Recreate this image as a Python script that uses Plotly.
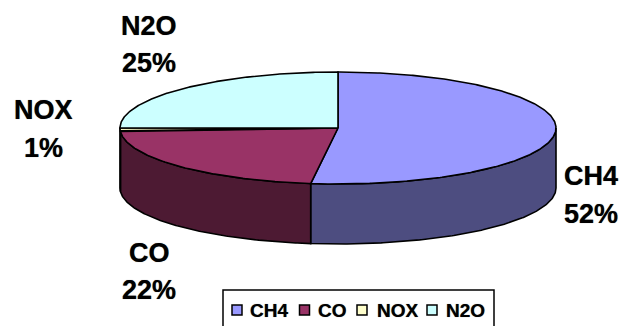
import numpy as np
import plotly.graph_objects as go

# Emission shares by gas, in percent
gases = ["CH4", "CO", "NOX", "N2O"]
shares = [52, 22, 1, 25]

top_colors = ["#9999FF", "#993366", "#FFFFCC", "#CCFFFF"]
side_colors = ["#4D4D80", "#4D1A33", "#808066", "#668080"]

# Tilted-disc geometry on a 623x326 canvas
CX, CY, RX, RY, DEPTH = 338, 128, 218, 56, 60
OUTLINE = dict(color="black", width=1.6)

# Label anchor points (centre of name, centre of percentage)
label_pos = {
    "CH4": (591, 176, 214),
    "CO": (149, 253, 290),
    "NOX": (43, 110, 148),
    "N2O": (149, 26, 63),
}
swatch_x = [237, 304.5, 362, 432]
legend_text_x = [249, 317, 376, 445]
LEGEND_Y = 310
TEXT_WEIGHT = "0 0 0.7px rgba(0,0,0,0.7)"


def rim(a0, a1):
    """Ellipse points for clockwise angles (degrees from twelve o'clock)."""
    t = np.radians(np.linspace(a0, a1, max(int(abs(a1 - a0)) * 2, 2)))
    return CX + RX * np.sin(t), CY - RY * np.cos(t)


edges = np.concatenate([[0], np.cumsum(shares)]) * 360 / sum(shares)
fig = go.Figure()

# Visible wall: only the front half of the disc (90 to 270 degrees)
for i, name in enumerate(gases):
    a0, a1 = max(edges[i], 90), min(edges[i + 1], 270)
    if a1 <= a0:
        continue
    x, y = rim(a0, a1)
    fig.add_trace(go.Scatter(
        x=np.concatenate([x, x[::-1], x[:1]]),
        y=np.concatenate([y, y[::-1] + DEPTH, y[:1]]),
        mode="lines", fill="toself", fillcolor=side_colors[i],
        line=OUTLINE, hoverinfo="skip", showlegend=False,
    ))

# Top face wedges
for i, name in enumerate(gases):
    x, y = rim(edges[i], edges[i + 1])
    fig.add_trace(go.Scatter(
        x=np.concatenate([[CX], x, [CX]]),
        y=np.concatenate([[CY], y, [CY]]),
        mode="lines", fill="toself", fillcolor=top_colors[i],
        line=OUTLINE, name=name, text=f"{name}: {shares[i]}%",
        hoverinfo="text", showlegend=False,
    ))

# Legend swatches
fig.add_trace(go.Scatter(
    x=swatch_x, y=[LEGEND_Y] * len(gases), mode="markers",
    marker=dict(symbol="square", size=10, color=top_colors,
                line=dict(color="black", width=1.5)),
    hoverinfo="skip", showlegend=False,
))

annotations = []
label_font = dict(family="Liberation Sans", size=27, color="black", weight="bold",
                  shadow=TEXT_WEIGHT)
for name, share in zip(gases, shares):
    lx, y_name, y_pct = label_pos[name]
    for text, ly in ((name, y_name), (f"{share}%", y_pct)):
        annotations.append(dict(x=lx, y=ly, text=text, showarrow=False,
                                xref="x", yref="y", font=label_font))

legend_font = dict(family="Liberation Sans", size=19, color="black", weight="bold",
                   shadow=TEXT_WEIGHT)
for name, tx in zip(gases, legend_text_x):
    annotations.append(dict(x=tx, y=LEGEND_Y, text=name, showarrow=False,
                            xanchor="left", xref="x", yref="y", xshift=-1,
                            font=legend_font))

fig.update_layout(
    width=623, height=326, margin=dict(l=0, r=0, t=0, b=0),
    paper_bgcolor="white", plot_bgcolor="white", showlegend=False,
    xaxis=dict(range=[0, 623], visible=False, fixedrange=True),
    yaxis=dict(range=[326, 0], visible=False, fixedrange=True),
    annotations=annotations,
    # Legend frame, running off the lower edge of the canvas
    shapes=[dict(type="rect", x0=223, x1=494, y0=290, y1=332, xref="x", yref="y",
                 line=dict(color="black", width=1.5), fillcolor="rgba(0,0,0,0)",
                 layer="below")],
)

fig.write_html("out.html", config=dict(displayModeBar=False))
